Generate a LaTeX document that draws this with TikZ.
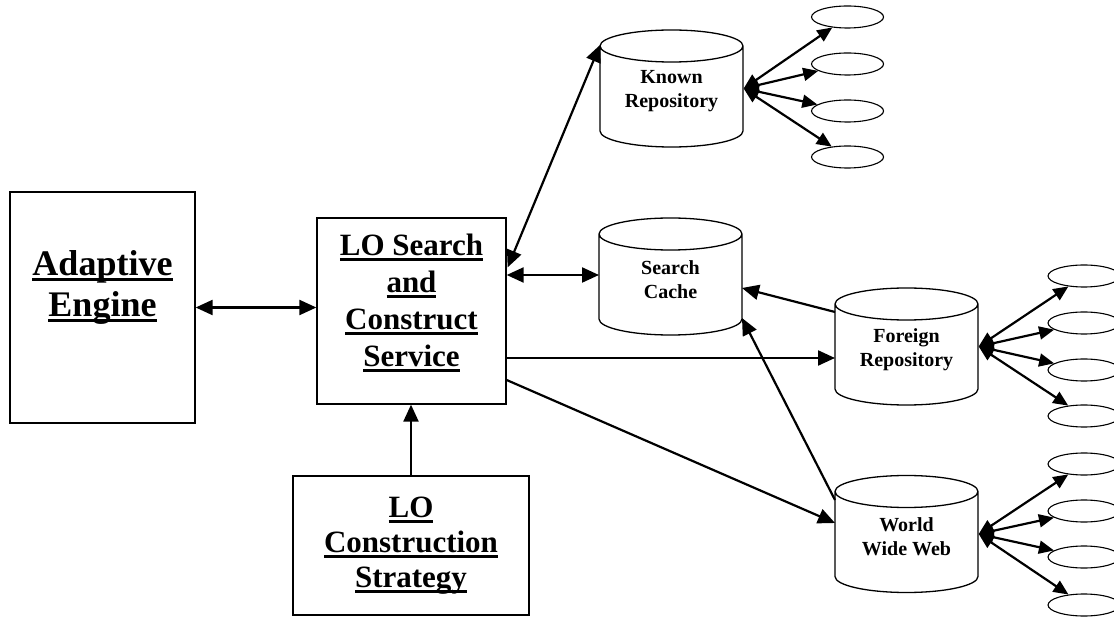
\documentclass[tikz,border=0pt]{standalone}
\usepackage{fontspec}
\setmainfont{Liberation Serif}
\usepackage{tikz}
\usetikzlibrary{arrows.meta, shapes.geometric, positioning, calc}
\newcommand{\ulword}[1]{\setbox0\hbox{#1}\leavevmode\rlap{\rule[-0.17em]{\wd0}{0.09em}}\box0}

\begin{document}
\begin{tikzpicture}[x=1pt, y=-1pt, >={Triangle[length=17pt,width=15pt]},
  box/.style={draw, line width=1.3pt},
  boxtext/.style={align=center, font=\bfseries\fontsize{31}{37}\selectfont},
  store/.style={draw, line width=1.3pt, cylinder, shape border rotate=90,
                aspect=0.3, minimum width=143pt, minimum height=117pt,
                text width=100pt, text height=20pt, text depth=30pt,
                anchor=shape center},
  storetext/.style={align=center, yshift=-3pt,
                    font=\bfseries\fontsize{20}{24}\selectfont},
  item/.style={draw, line width=1.1pt, ellipse, minimum width=72pt,
               minimum height=22pt, inner sep=0pt},
  link/.style={line width=2.2pt},
  fan/.style={line width=2.2pt,
              {Triangle[length=15pt,width=13pt]}-{Triangle[length=15pt,width=13pt]}}]

  \useasboundingbox (0,0) rectangle (1114,617);

  \node[box, minimum width=185pt, minimum height=231pt] (ae) at (102.5,307.5) {};
  \node[boxtext, font=\bfseries\fontsize{36}{41}\selectfont] (aetext)
        at (102.5,287) {\ulword{Adaptive}\\\ulword{Engine}};

  \node[box, minimum width=189pt, minimum height=186pt] (lo) at (411.5,311) {};
  \node[boxtext] (lotext) at (411.5,303)
        {\ulword{LO Search}\\\ulword{and}\\\ulword{Construct}\\\ulword{Service}};

  \node[box, minimum width=236pt, minimum height=139pt] (strat) at (411,545.5) {};
  \node[boxtext, font=\bfseries\fontsize{31}{35}\selectfont] (strattext)
        at (strat) {\ulword{LO}\\\ulword{Construction}\\\ulword{Strategy}};

  \node[store] (kr) at (671.5,88.5) {};
  \node[storetext] at (kr.shape center) {Known\\Repository};
  \node[store] (sc) at (670.5,276.5) {};
  \node[storetext] at (sc.shape center) {Search\\Cache};
  \node[store] (fr) at (906.5,346.5) {};
  \node[storetext] at (fr.shape center) {Foreign\\Repository};
  \node[store] (www) at (906.5,534) {};
  \node[storetext] at (www.shape center) {World\\Wide Web};

  \foreach \y [count=\i] in {17,64,111,157}
    \node[item] (kr\i) at (847.5,\y) {};
  \foreach \y [count=\i] in {276,323,370,416}
    \node[item] (fr\i) at (1084,\y) {};
  \foreach \y [count=\i] in {464,511,557,605}
    \node[item] (www\i) at (1084,\y) {};

  \foreach \i in {1,...,4} {
    \draw[fan] (kr.east |- kr.shape center) -- (kr\i);
    \draw[fan] (fr.east |- fr.shape center) -- (fr\i);
    \draw[fan] (www.east |- www.shape center) -- (www\i);
  }

  \coordinate (krin) at ($(kr.shape center)+(-71.5,-43.5)$);
  \coordinate (scin) at ($(sc.shape center)+(-71.5,-1.5)$);
  \coordinate (scup) at ($(sc.shape center)+(71.5,11.5)$);
  \coordinate (scdn) at ($(sc.shape center)+(71.5,41.5)$);
  \coordinate (frout) at ($(fr.shape center)+(-71.5,-34.5)$);
  \coordinate (frin) at ($(fr.shape center)+(-71.5,11.5)$);
  \coordinate (wwwout) at ($(www.shape center)+(-71.5,-34)$);
  \coordinate (wwwin) at ($(www.shape center)+(-71.5,-11)$);

  \draw[link, <->] (ae.east) -- (ae.east -| lo.west);
  \draw[link, ->] (strat.north) -- (strat.north |- lo.south);
  \draw[link, <->] ($(lo.north east)+(1,50)$) -- (krin);
  \draw[link, <->] (lo.east |- scin) -- (scin);
  \draw[link, ->] (frout) -- (scup);
  \draw[link, ->] (wwwout) -- (scdn);
  \draw[link, ->] (lo.east |- frin) -- (frin);
  \draw[link, ->] ($(lo.east)+(0,69)$) -- (wwwin);

\end{tikzpicture}
\end{document}
